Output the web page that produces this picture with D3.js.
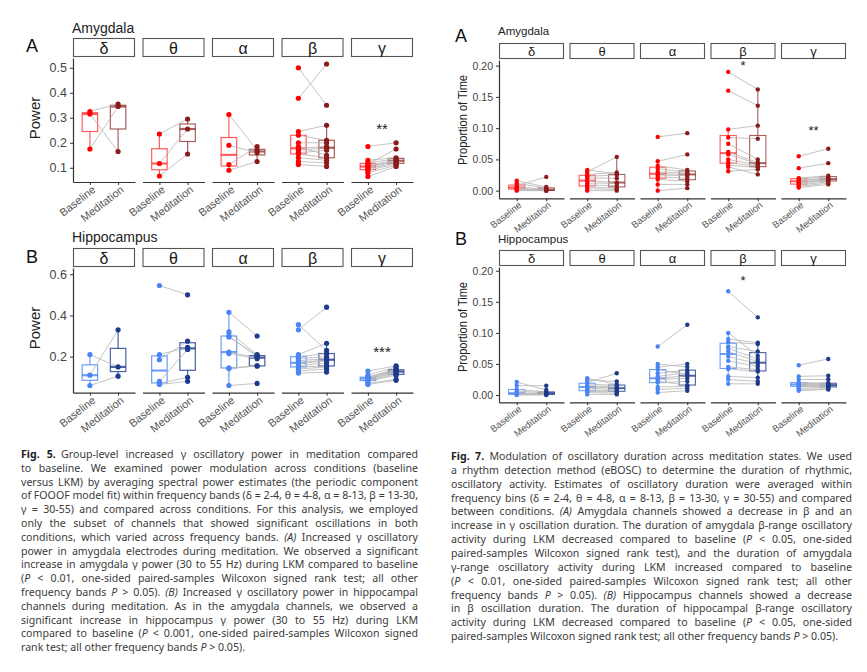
<!DOCTYPE html>
<html>
<head>
<meta charset="utf-8">
<script src="https://cdn.jsdelivr.net/npm/d3@7/dist/d3.min.js"></script>
<style>
  html, body { margin: 0; padding: 0; background: #fff; }
  svg { display: block; font-family: 'Liberation Sans', Arial, sans-serif; }
</style>
</head>
<body>
<svg id="fig" width="867" height="672"></svg>
<script>
const bands = ['δ', 'θ', 'α', 'β', 'γ'];
const conditions = ['Baseline', 'Meditation'];

// Fig 5A - amygdala power, one array per band, paired by channel index
const amyPowerBase = [
  [0.325, 0.315, 0.175],
  [0.235, 0.117, 0.067],
  [0.313, 0.19, 0.113, 0.09],
  [0.5, 0.378, 0.245, 0.23, 0.2, 0.185, 0.178, 0.17, 0.16, 0.155, 0.14, 0.125, 0.113],
  [0.185, 0.13, 0.12, 0.115, 0.11, 0.105, 0.1, 0.095, 0.09, 0.08, 0.065]
];
const amyPowerMed = [
  [0.355, 0.165, 0.345],
  [0.295, 0.255, 0.155],
  [0.17, 0.16, 0.185, 0.125],
  [0.35, 0.515, 0.27, 0.21, 0.2, 0.15, 0.185, 0.18, 0.17, 0.14, 0.13, 0.12, 0.105],
  [0.2, 0.14, 0.135, 0.175, 0.13, 0.128, 0.125, 0.12, 0.115, 0.11, 0.105]
];
// Fig 5B - hippocampus power
const hipPowerBase = [
  [0.21, 0.11, 0.06],
  [0.545, 0.21, 0.185, 0.08, 0.07, 0.065],
  [0.415, 0.32, 0.3, 0.295, 0.222, 0.215, 0.145, 0.142, 0.06],
  [0.355, 0.33, 0.21, 0.2, 0.19, 0.18, 0.17, 0.165, 0.155, 0.15, 0.14, 0.13, 0.12],
  [0.13, 0.11, 0.1, 0.1, 0.097, 0.095, 0.092, 0.09, 0.085, 0.08, 0.07, 0.065]
];
const hipPowerMed = [
  [0.15, 0.33, 0.105],
  [0.5, 0.245, 0.275, 0.235, 0.1, 0.08],
  [0.3, 0.21, 0.2, 0.205, 0.195, 0.19, 0.155, 0.155, 0.07],
  [0.23, 0.44, 0.265, 0.215, 0.2, 0.19, 0.185, 0.18, 0.17, 0.155, 0.15, 0.14, 0.125],
  [0.155, 0.15, 0.14, 0.135, 0.135, 0.13, 0.125, 0.12, 0.115, 0.11, 0.09, 0.085]
];
// Fig 7A - amygdala proportion of time
const amyDurBase = [
  [0.016, 0.012, 0.008, 0.006, 0.004, 0.003, 0.001, 0],
  [0.033, 0.03, 0.026, 0.023, 0.02, 0.016, 0.012, 0.009, 0.006, 0.003, 0],
  [0.086, 0.047, 0.04, 0.035, 0.03, 0.027, 0.025, 0.022, 0.018, 0.01, 0],
  [0.19, 0.16, 0.098, 0.085, 0.075, 0.062, 0.058, 0.05, 0.045, 0.041, 0.038, 0.031],
  [0.055, 0.036, 0.02, 0.019, 0.017, 0.016, 0.014, 0.013, 0.011, 0.009, 0.007, 0.005]
];
const amyDurMed = [
  [0.006, 0.004, 0.022, 0.002, 0.001, 0.0005, 0, 0],
  [0.027, 0.054, 0.029, 0.025, 0.02, 0.013, 0.012, 0.008, 0.004, 0.002, 0],
  [0.092, 0.058, 0.033, 0.03, 0.028, 0.026, 0.024, 0.02, 0.015, 0.01, 0.004],
  [0.162, 0.136, 0.104, 0.083, 0.05, 0.045, 0.043, 0.041, 0.039, 0.037, 0.026, 0.034],
  [0.067, 0.044, 0.024, 0.022, 0.02, 0.019, 0.018, 0.017, 0.016, 0.014, 0.012, 0.01]
];
// Fig 7B - hippocampus proportion of time
const hipDurBase = [
  [0.021, 0.015, 0.009, 0.006, 0.003, 0.002, 0.001, 0.001, 0],
  [0.027, 0.024, 0.02, 0.018, 0.015, 0.013, 0.011, 0.008, 0.006, 0.004, 0.001],
  [0.078, 0.05, 0.045, 0.041, 0.035, 0.03, 0.027, 0.025, 0.022, 0.02, 0.013, 0.009, 0.004],
  [0.167, 0.1, 0.09, 0.085, 0.078, 0.075, 0.07, 0.062, 0.055, 0.045, 0.042, 0.03, 0.025, 0.018],
  [0.048, 0.03, 0.025, 0.02, 0.019, 0.018, 0.017, 0.016, 0.015, 0.014, 0.011, 0.009, 0.007]
];
const hipDurMed = [
  [0.008, 0.015, 0.005, 0.004, 0.003, 0.002, 0.001, 0.001, 0],
  [0.017, 0.022, 0.035, 0.015, 0.013, 0.011, 0.009, 0.007, 0.005, 0.003, 0.001],
  [0.113, 0.045, 0.05, 0.033, 0.04, 0.036, 0.031, 0.027, 0.016, 0.022, 0.014, 0.011, 0.007],
  [0.125, 0.063, 0.084, 0.082, 0.07, 0.058, 0.054, 0.05, 0.046, 0.041, 0.038, 0.028, 0.022, 0.018],
  [0.058, 0.031, 0.025, 0.019, 0.018, 0.017, 0.016, 0.015, 0.014, 0.013, 0.012, 0.01, 0.009]
];

// axis ranges and ticks
const amyPowerRange = [0.043, 0.539];
const hipPowerRange = [0.025, 0.63];
const amyDurRange = [-0.0122, 0.209];
const hipDurRange = [-0.0117, 0.206];
const amyPowerTicks = [0.1, 0.2, 0.3, 0.4, 0.5];
const hipPowerTicks = [0.2, 0.4, 0.6];
const durTicks = [0, 0.05, 0.10, 0.15, 0.20];

// significance marks and their heights
const amyPowerStars = ['', '', '', '', '**'];
const amyPowerStarAt = [0, 0, 0, 0, 0.258];
const hipPowerStars = ['', '', '', '', '***'];
const hipPowerStarAt = [0, 0, 0, 0, 0.224];
const amyDurStars = ['', '', '', '*', '**'];
const amyDurStarAt = [0, 0, 0, 0.201, 0.097];
const hipDurStars = ['', '', '', '*', ''];
const hipDurStarAt = [0, 0, 0, 0.185, 0];

const amyColors = { point: ['#ff0000', '#8b1a1a'], box: ['rgba(255,40,40,0.75)', 'rgba(140,40,40,0.75)'] };
const hipColors = { point: ['#4a85f6', '#1d3a8c'], box: ['rgba(74,133,246,0.8)', 'rgba(29,58,140,0.8)'] };

const caption5 = [
  '**Fig. 5.**\u2002Group-level increased γ oscillatory power in meditation compared',
  'to baseline. We examined power modulation across conditions (baseline',
  'versus LKM) by averaging spectral power estimates (the periodic component',
  'of FOOOF model fit) within frequency bands (δ = 2-4, θ = 4-8, α = 8-13, β = 13-30,',
  'γ = 30-55) and compared across conditions. For this analysis, we employed',
  'only the subset of channels that showed significant oscillations in both',
  'conditions, which varied across frequency bands. _(A)_ Increased γ oscillatory',
  'power in amygdala electrodes during meditation. We observed a significant',
  'increase in amygdala γ power (30 to 55 Hz) during LKM compared to baseline',
  '(_P_ < 0.01, one-sided paired-samples Wilcoxon signed rank test; all other',
  'frequency bands _P_ > 0.05). _(B)_ Increased γ oscillatory power in hippocampal',
  'channels during meditation. As in the amygdala channels, we observed a',
  'significant increase in hippocampus γ power (30 to 55 Hz) during LKM',
  'compared to baseline (_P_ < 0.001, one-sided paired-samples Wilcoxon signed',
  'rank test; all other frequency bands _P_ > 0.05).'
];
const caption7 = [
  '**Fig. 7.**\u2002Modulation of oscillatory duration across meditation states. We used',
  'a rhythm detection method (eBOSC) to determine the duration of rhythmic,',
  'oscillatory activity. Estimates of oscillatory duration were averaged within',
  'frequency bins (δ = 2-4, θ = 4-8, α = 8-13, β = 13-30, γ = 30-55) and compared',
  'between conditions. _(A)_ Amygdala channels showed a decrease in β and an',
  'increase in γ oscillation duration. The duration of amygdala β-range oscillatory',
  'activity during LKM decreased compared to baseline (_P_ < 0.05, one-sided',
  'paired-samples Wilcoxon signed rank test), and the duration of amygdala',
  'γ-range oscillatory activity during LKM increased compared to baseline',
  '(_P_ < 0.01, one-sided paired-samples Wilcoxon signed rank test; all other',
  'frequency bands _P_ > 0.05). _(B)_ Hippocampus channels showed a decrease',
  'in β oscillation duration. The duration of hippocampal β-range oscillatory',
  'activity during LKM decreased compared to baseline (_P_ < 0.05, one-sided',
  'paired-samples Wilcoxon signed rank test; all other frequency bands _P_ > 0.05).'
];

const svg = d3.select('#fig');

function boxStats(vals) {
  const s = vals.slice().sort(d3.ascending);
  const q1 = d3.quantileSorted(s, 0.25), q2 = d3.quantileSorted(s, 0.5), q3 = d3.quantileSorted(s, 0.75);
  const iqr = q3 - q1;
  const lo = d3.min(s.filter(v => v >= q1 - 1.5 * iqr));
  const hi = d3.max(s.filter(v => v <= q3 + 1.5 * iqr));
  return { q1, q2, q3, lo, hi };
}

function drawPanel(p) {
  const g = svg.append('g');
  const fx = d3.scaleBand().domain(bands).range([p.x0, p.x1]).paddingInner(p.gap);
  const y = d3.scaleLinear().domain(p.range).range([p.yBottom, p.yTop]);
  const w = fx.bandwidth();

  // panel letter and region title
  g.append('text').attr('x', p.letterX).attr('y', p.letterY)
    .attr('font-size', 18).attr('fill', '#111').text(p.letter);
  g.append('text').attr('x', p.x0 - 1).attr('y', p.titleY)
    .attr('font-size', p.titleSize).attr('fill', '#222').text(p.title);

  bands.forEach((b, i) => {
    const fx0 = fx(b);
    const cx = d3.scalePoint().domain(conditions).range([fx0, fx0 + w]).padding(0.6);
    const boxW = cx.step() * 0.55;

    // strip
    g.append('rect').attr('x', fx0 + 0.5).attr('y', p.stripTop + 0.5)
      .attr('width', w - 1).attr('height', p.yTop - p.stripTop - 2)
      .attr('fill', '#fff').attr('stroke', '#555').attr('stroke-width', 1.1);
    g.append('text').attr('x', fx0 + w / 2).attr('y', (p.stripTop + p.yTop) / 2)
      .attr('text-anchor', 'middle').attr('dominant-baseline', 'central')
      .attr('font-size', p.stripSize).attr('fill', '#1a1a1a').text(b);

    const series = [p.base[i], p.med[i]];

    // boxes
    series.forEach((vals, k) => {
      const st = boxStats(vals);
      const x = cx(conditions[k]);
      const col = p.colors.box[k];
      const bg = g.append('g').attr('stroke', col).attr('fill', 'none').attr('stroke-width', p.boxStroke);
      bg.append('line').attr('x1', x).attr('x2', x).attr('y1', y(st.q3)).attr('y2', y(st.hi));
      bg.append('line').attr('x1', x).attr('x2', x).attr('y1', y(st.q1)).attr('y2', y(st.lo));
      bg.append('rect').attr('x', x - boxW / 2).attr('y', y(st.q3))
        .attr('width', boxW).attr('height', Math.max(0.5, y(st.q1) - y(st.q3)));
      bg.append('line').attr('x1', x - boxW / 2).attr('x2', x + boxW / 2)
        .attr('y1', y(st.q2)).attr('y2', y(st.q2)).attr('stroke-width', p.boxStroke * 1.8);
    });

    // paired lines
    g.append('g').selectAll('line').data(d3.range(series[0].length)).join('line')
      .attr('x1', cx(conditions[0])).attr('x2', cx(conditions[1]))
      .attr('y1', j => y(series[0][j])).attr('y2', j => y(series[1][j]))
      .attr('stroke', '#b8b8b8').attr('stroke-opacity', 0.85).attr('stroke-width', 1);

    // points
    series.forEach((vals, k) => {
      g.append('g').selectAll('circle').data(vals).join('circle')
        .attr('cx', cx(conditions[k])).attr('cy', v => y(v)).attr('r', p.r)
        .attr('fill', p.colors.point[k]);
    });

    // significance
    if (p.stars[i]) {
      g.append('text').attr('x', fx0 + w / 2).attr('y', y(p.starAt[i]))
        .attr('text-anchor', 'middle').attr('dominant-baseline', 'central')
        .attr('font-size', p.starSize).attr('fill', '#222').text(p.stars[i]);
    }

    // bottom axis for each facet
    const ax = g.append('g').attr('transform', `translate(0,${p.yBottom})`)
      .call(d3.axisBottom(cx).tickSize(3).tickSizeOuter(0));
    ax.select('.domain').attr('stroke', '#333').attr('stroke-width', 1.2);
    ax.selectAll('.tick line').attr('stroke', '#333');
    ax.selectAll('.tick text')
      .attr('x', 0).attr('y', 0).attr('dy', 0)
      .attr('text-anchor', 'end')
      .attr('transform', `translate(${p.labDx},${p.labDy}) rotate(-38)`)
      .attr('font-size', p.xLabSize).attr('font-family', 'Liberation Sans, Arial, sans-serif')
      .attr('fill', '#555');
  });

  // left axis on first facet only
  const ay = g.append('g').attr('transform', `translate(${p.x0},0)`)
    .call(d3.axisLeft(y).tickValues(p.ticks).tickFormat(d3.format(p.fmt)).tickSize(3).tickSizeOuter(0));
  ay.select('.domain').attr('stroke', '#333').attr('stroke-width', 1.2);
  ay.selectAll('.tick line').attr('stroke', '#333');
  ay.selectAll('.tick text').attr('font-size', p.yLabSize)
    .attr('font-family', 'Liberation Sans, Arial, sans-serif').attr('fill', '#444');

  const yt = g.append('text')
    .attr('transform', `translate(${p.yTitleX},${p.yTitleY}) rotate(-90)`)
    .attr('text-anchor', 'middle').attr('dominant-baseline', 'central')
    .attr('font-size', p.yTitleSize).attr('fill', '#222').text(p.yTitle);
  if (p.yTitleLen) yt.attr('textLength', p.yTitleLen).attr('lengthAdjust', 'spacingAndGlyphs');
}

const fig5 = { x0: 73, x1: 413, gap: 0.108, r: 2.6, boxStroke: 1.2, stripSize: 16, starSize: 15,
  xLabSize: 11, yLabSize: 12.5, labDx: 6, labDy: 9, fmt: '.1f', yTitle: 'Power', yTitleX: 34,
  yTitleSize: 15, titleSize: 14, colors: null, letterX: 26 };
const fig7 = { x0: 499, x1: 846, gap: 0.078, r: 2.2, boxStroke: 1.1, stripSize: 13, starSize: 13,
  xLabSize: 9.5, yLabSize: 10.5, labDx: 5, labDy: 8, fmt: '.2f', yTitle: 'Proportion of Time',
  yTitleX: 463, yTitleSize: 12, yTitleLen: 90, titleSize: 11.5, letterX: 455 };

drawPanel(Object.assign({}, fig5, {
  letter: 'A', letterY: 52, title: 'Amygdala', titleY: 33,
  stripTop: 38, yTop: 58, yBottom: 182, range: amyPowerRange, ticks: amyPowerTicks,
  base: amyPowerBase, med: amyPowerMed, stars: amyPowerStars, starAt: amyPowerStarAt,
  colors: amyColors, yTitleY: 118 }));
drawPanel(Object.assign({}, fig5, {
  letter: 'B', letterY: 263, title: 'Hippocampus', titleY: 242,
  stripTop: 248, yTop: 268, yBottom: 392.7, range: hipPowerRange, ticks: hipPowerTicks,
  base: hipPowerBase, med: hipPowerMed, stars: hipPowerStars, starAt: hipPowerStarAt,
  colors: hipColors, yTitleY: 328 }));
drawPanel(Object.assign({}, fig7, {
  letter: 'A', letterY: 42, title: 'Amygdala', titleY: 35,
  stripTop: 43, yTop: 60, yBottom: 198.3, range: amyDurRange, ticks: durTicks,
  base: amyDurBase, med: amyDurMed, stars: amyDurStars, starAt: amyDurStarAt,
  colors: amyColors, yTitleY: 120 }));
drawPanel(Object.assign({}, fig7, {
  letter: 'B', letterY: 245, title: 'Hippocampus', titleY: 243,
  stripTop: 250, yTop: 267, yBottom: 402.3, range: hipDurRange, ticks: durTicks,
  base: hipDurBase, med: hipDurMed, stars: hipDurStars, starAt: hipDurStarAt,
  colors: hipColors, yTitleY: 327 }));

// justified caption blocks
function drawCaption(lines, x0, x1, y0, lh) {
  const g = svg.append('g').attr('font-family', "'Noto Sans', 'Open Sans', sans-serif")
    .attr('font-size', 10.6).attr('fill', '#3a3a3a');
  lines.forEach((ln, i) => {
    const t = g.append('text').attr('x', x0).attr('y', y0 + i * lh);
    ln.split(/(\*\*.+?\*\*|_.+?_)/).filter(s => s).forEach(s => {
      const ts = t.append('tspan');
      if (s.startsWith('**')) ts.attr('font-weight', 'bold').attr('fill', '#222').text(s.slice(2, -2));
      else if (s.startsWith('_')) ts.attr('font-style', 'italic').text(s.slice(1, -1));
      else ts.text(s);
    });
    if (i < lines.length - 1) {
      const natural = t.node().getComputedTextLength();
      const spaces = (ln.match(/ /g) || []).length;
      const ws = (x1 - x0 - natural) / spaces;
      if (ws > -1.2) t.attr('word-spacing', ws);
      else t.attr('textLength', x1 - x0).attr('lengthAdjust', 'spacingAndGlyphs');
    }
  });
}
drawCaption(caption5, 21, 418, 458, 13.8);
drawCaption(caption7, 451, 852, 460, 13.85);
</script>
</body>
</html>
